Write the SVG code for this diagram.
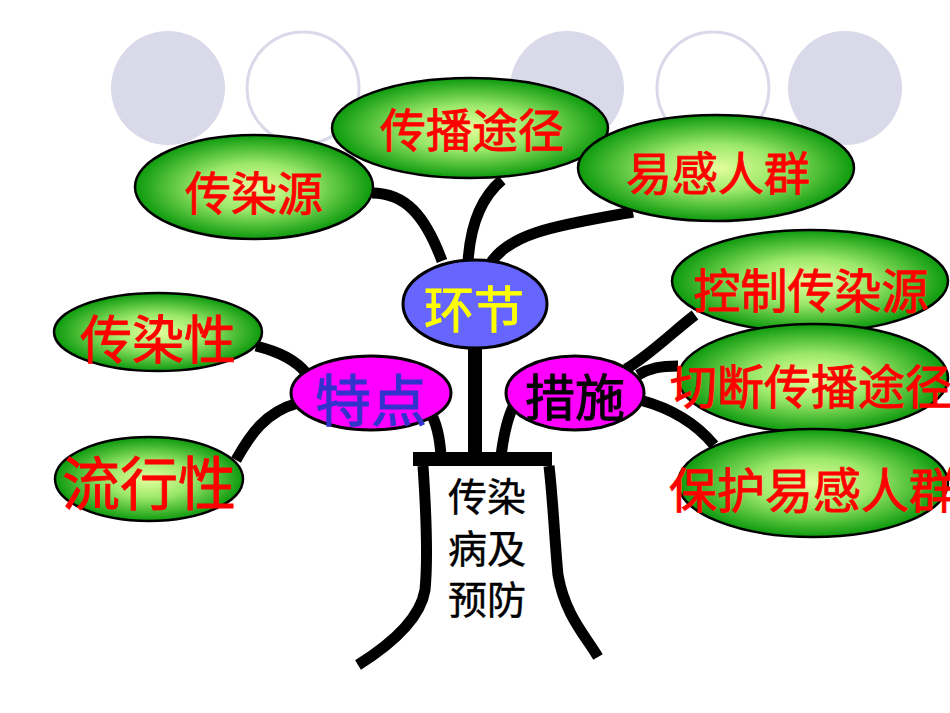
<svg xmlns="http://www.w3.org/2000/svg" width="950" height="713" viewBox="0 0 950 713">
<defs>
<radialGradient id="g" cx="50%" cy="50%" r="50%">
<stop offset="0" stop-color="#e4ff9c"/>
<stop offset="0.45" stop-color="#9be86a"/>
<stop offset="1" stop-color="#0d9a0d"/>
</radialGradient>
<style>
.bgf{fill:#d9d9ea}
.bgo{fill:none;stroke:#d9d9ea;stroke-width:3}
.green{fill:url(#g);stroke:#000;stroke-width:2.5}
.mag{fill:#ff00ff;stroke:#000;stroke-width:3}
.blue{fill:#6666ff;stroke:#000;stroke-width:3}
.c{fill:none;stroke:#000;stroke-width:11;stroke-linecap:butt}
text{font-family:"Noto Sans CJK SC","Noto Sans CJK JP",sans-serif;text-anchor:middle;dominant-baseline:central}
.r{fill:#ff0000;stroke:#ff0000;stroke-width:0.9}
</style>
</defs>
<rect width="950" height="713" fill="#fff"/>
<g id="background">
<circle class="bgf" cx="168" cy="88" r="57"/>
<circle class="bgo" cx="303" cy="88" r="56"/>
<circle class="bgf" cx="567" cy="88" r="57"/>
<circle class="bgo" cx="713" cy="88" r="56"/>
<circle class="bgf" cx="845" cy="88" r="57"/>
</g>
<g id="connectors">
<path class="c" d="M372,193 C405,193 425,215 442,261"/>
<path class="c" d="M502,180 C478,200 470,230 468,262"/>
<path class="c" d="M633,212 C560,225 510,232 490,264"/>
<path class="c" d="M475,345 L475,456" style="stroke-width:14"/>
<path class="c" d="M430,412 C438,425 440,440 441,456"/>
<path class="c" d="M514,405 C506,420 503,440 501,456"/>
<path class="c" d="M256,346 C280,352 296,360 307,374"/>
<path class="c" d="M236,460 C250,435 265,412 298,403"/>
<path class="c" d="M626,369 C650,355 675,330 695,315"/>
<path class="c" d="M638,375 C650,368 660,366 678,366"/>
<path class="c" d="M640,400 C670,408 695,422 714,445"/>
</g>
<g id="pot">
<path d="M413,459 L552,459" fill="none" stroke="#000" stroke-width="14"/>
<path d="M423,466 C426,510 428,560 425,590 C420,620 390,645 358,665" fill="none" stroke="#000" stroke-width="11"/>
<path d="M549,466 C553,500 555,545 558,575 C565,615 585,635 598,657" fill="none" stroke="#000" stroke-width="11"/>
<text x="487" y="494" font-size="39" fill="#000" stroke="#000" stroke-width="0.4">传染</text>
<text x="487" y="546" font-size="39" fill="#000" stroke="#000" stroke-width="0.4">病及</text>
<text x="487" y="597" font-size="39" fill="#000" stroke="#000" stroke-width="0.4">预防</text>
</g>
<g id="n-chuanboujing">
<ellipse class="green" cx="470" cy="128" rx="138" ry="50"/>
<text class="r" x="472" y="127" font-size="46">传播途径</text>
</g>
<g id="n-chuanranyuan">
<ellipse class="green" cx="254" cy="187" rx="119" ry="52"/>
<text class="r" x="254" y="190" font-size="46">传染源</text>
</g>
<g id="n-yiganrenqun">
<ellipse class="green" cx="716" cy="168" rx="138" ry="53"/>
<text class="r" x="718" y="170" font-size="46">易感人群</text>
</g>
<g id="n-huanjie">
<ellipse class="blue" cx="475" cy="304" rx="72" ry="44"/>
<text x="474" y="306" font-size="50" fill="#ffff00" stroke="#ffff00" stroke-width="0.9">环节</text>
</g>
<g id="n-tedian">
<ellipse class="mag" cx="371" cy="393" rx="80" ry="37"/>
<text x="371" y="396" font-size="56" fill="#3333cc" stroke="#3333cc" stroke-width="1">特点</text>
</g>
<g id="n-cuoshi">
<ellipse class="mag" cx="575" cy="393" rx="69" ry="37"/>
<text x="575" y="394" font-size="50" fill="#000" stroke="#000" stroke-width="0.9">措施</text>
</g>
<g id="n-chuanranxing">
<ellipse class="green" cx="158" cy="332" rx="104" ry="39"/>
<text class="r" x="158" y="336" font-size="52">传染性</text>
</g>
<g id="n-liuxingxing">
<ellipse class="green" cx="149" cy="479" rx="94" ry="42"/>
<text class="r" x="149" y="480" font-size="58">流行性</text>
</g>
<g id="n-kongzhi">
<ellipse class="green" cx="810" cy="281" rx="138" ry="51"/>
<text class="r" x="811" y="287" font-size="47">控制传染源</text>
</g>
<g id="n-qieduan">
<ellipse class="green" cx="813" cy="378" rx="135" ry="54"/>
<text class="r" x="811" y="383" font-size="47">切断传播途径</text>
</g>
<g id="n-baohu">
<ellipse class="green" cx="813" cy="483" rx="135" ry="54"/>
<text class="r" x="813" y="487" font-size="48">保护易感人群</text>
</g>
</svg>
